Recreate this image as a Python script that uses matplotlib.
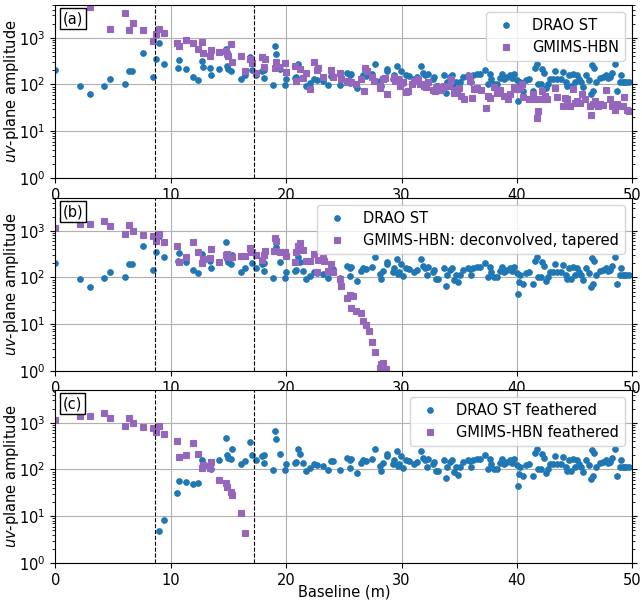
import numpy as np
import matplotlib.pyplot as plt

# DRAO single-dish (ST) amplitudes along baseline
drao_base = [
    0.0, 2.15, 3.0, 4.22, 4.73, 6.0, 6.37, 6.69, 7.63, 8.43, 8.72, 8.95, 9.44,
    10.59, 10.76, 11.36, 11.96, 12.34, 12.68, 12.83, 13.37, 13.51, 14.17, 14.75,
    14.89, 14.95, 15.2, 15.35, 16.07, 16.47, 16.87, 17.01, 17.42, 17.9, 18.05,
    18.1, 18.88, 19.0, 19.1, 19.45, 19.91, 20.03, 20.77, 20.89, 21.06, 21.17,
    21.46, 21.69, 22.03, 22.41, 22.7, 23.2, 23.6, 23.9, 24.1, 24.7,
    25.3, 25.5, 25.52, 25.65, 26.1, 26.45, 26.7, 26.94, 27.45, 27.74, 28.09,
    28.23, 28.37, 28.72, 28.75, 29.29, 29.38, 29.61, 29.66, 29.75, 29.95, 30.1,
    30.38, 30.67, 31.1, 31.33, 31.67, 31.82, 32.0, 32.19, 32.3, 32.68, 32.82,
    32.96, 33.19, 33.68, 33.82, 33.97, 34.17, 34.4, 34.54, 34.74, 34.91, 35.1,
    35.35, 35.77, 35.97, 36.03, 36.2, 36.5, 36.83, 37.27, 37.47, 37.64, 37.78,
    37.98, 38.27, 38.56, 38.7, 38.84, 39.13, 39.36, 39.56, 39.7, 39.99, 40.05,
    40.19, 40.28, 40.56, 40.77, 41.0, 41.42, 41.57, 41.71, 41.86, 42.06, 42.2,
    42.34, 42.49, 42.72, 42.86, 43.09, 43.29, 43.43, 43.78, 44.0, 44.24, 44.29,
    44.5, 44.72, 44.87, 45.04, 45.21, 45.38, 45.58, 45.73, 46.01, 46.22, 46.39,
    46.53, 46.59, 46.67, 46.82, 47.16, 47.45, 47.74, 47.88, 48.08, 48.25, 48.45,
    48.68, 48.88, 49.03, 49.17, 49.31, 49.46, 49.69,
]
drao_amp = [
    205, 93, 64, 95, 130, 103, 190, 190, 475, 145, 343, 765, 272,
    228, 336, 213, 141, 126, 325, 238, 223, 163, 216, 575,
    245, 209, 190, 300, 134, 156, 390, 199, 156, 190, 140,
    200, 97, 650, 450, 216, 98, 134, 136, 145, 277, 209,
    140, 92, 105, 128, 122, 120, 97, 155, 155, 97,
    174, 161, 107, 166, 84, 136, 162, 155, 166, 270, 121,
    91, 136, 214, 190, 129, 162, 246, 120, 132, 190, 108,
    162, 151, 132, 145, 246, 178, 162, 115, 170, 129, 145,
    91, 91, 162, 66, 112, 145, 162, 87, 112, 78, 115,
    145, 162, 151, 112, 162, 170, 170, 204, 102, 170, 129,
    102, 102, 136, 170, 129, 145, 162, 136, 170, 122, 44,
    81, 112, 71, 122, 132, 71, 224, 275, 100, 100, 214,
    178, 83, 100, 132, 129, 190, 132, 129, 182, 115, 91,
    162, 91, 170, 115, 162, 129, 112, 87, 162, 122, 63,
    263, 74, 224, 115, 136, 145, 162, 136, 145, 178, 275,
    74, 112, 162, 112, 112, 112, 112,
]

# feathered DRAO amplitudes below 17 m; beyond that they equal the ST values
feath_base_low = [8.95, 9.44, 10.56, 10.76, 11.36, 11.94, 12.34, 12.68, 12.83,
                  13.37, 13.51, 14.17, 14.75, 14.89, 14.95, 15.2, 15.35, 16.07,
                  16.47, 16.87]
feath_amp_low = [4.8, 8.2, 32, 56, 54, 49, 51, 156, 124,
                 134, 100, 158, 476, 203, 178, 164, 273, 130,
                 153, 392]

# GMIMS-HBN, raw
hbn_base = [
    3.0, 4.77, 6.0, 6.37, 6.72, 7.63, 8.44, 8.72, 8.95, 9.44, 10.56, 10.76,
    11.36, 11.94, 12.34, 12.68, 12.83, 13.37, 13.51, 14.17, 14.75, 14.89, 14.95,
    15.2, 15.35, 16.07, 16.47, 16.87, 17.01, 17.42, 17.9, 18.05, 18.2, 19.0,
    19.1, 19.4, 19.91, 20.03, 20.77, 20.89, 21.17, 21.46, 21.69, 22.03, 22.41,
    22.7, 22.8, 23.2, 23.85, 24.1, 24.7, 24.72, 25.3,
    25.36, 25.65, 26.08, 26.5, 26.74, 26.85, 27.02, 27.43, 27.6, 28.09, 28.17,
    28.37, 28.57, 28.75, 29.32, 29.43, 29.66, 29.89, 30.1, 30.38, 30.52, 30.87,
    31.1, 31.39, 31.61, 31.9, 32.1, 32.25, 32.76, 32.88, 33.1, 33.39, 33.68,
    34.11, 34.25, 34.54, 34.68, 34.97, 35.17, 35.4, 35.83, 35.97, 36.06, 36.26,
    36.55, 36.89, 37.35, 37.47, 37.7, 37.98, 38.27, 38.56, 38.84, 39.19, 39.42,
    39.7, 39.99, 40.22, 40.42, 40.56, 41.0, 41.42, 41.65, 41.77, 41.86, 42.14,
    42.23, 42.43, 42.63, 43.29, 43.43, 43.95, 44.15, 44.35, 44.58, 44.87, 45.01,
    45.21, 45.44, 45.67, 45.87, 46.3, 46.45, 46.59, 46.73, 47.02, 47.16, 47.45,
    47.74, 48.02, 48.25, 48.45, 48.65, 48.88, 49.17, 49.31, 49.51, 49.74,
]
hbn_amp = [
    4600, 1500, 3450, 1440, 2100, 1450, 870, 1220, 1500, 1280, 755, 650,
    890, 780, 560, 810, 460, 405, 535, 495, 520, 455, 405,
    720, 305, 405, 193, 345, 290, 178, 390, 235, 355, 228,
    305, 234, 290, 182, 245, 117, 219, 138, 174, 81, 302,
    204, 229, 145, 204, 145, 178, 129, 112,
    117, 112, 100, 132, 72, 229, 195, 145, 117, 95, 85,
    129, 138, 62, 145, 117, 129, 95, 112, 69, 72, 100,
    117, 129, 100, 95, 89, 112, 78, 72, 89, 78, 95,
    91, 129, 66, 76, 85, 56, 49, 151, 117, 51, 81,
    85, 76, 32, 58, 51, 89, 66, 76, 58, 48, 62,
    89, 81, 85, 100, 55, 49, 62, 49, 19.5, 27, 72,
    48, 56, 48, 85, 55, 35, 51, 49, 35, 81, 41,
    44, 41, 62, 49, 35, 22, 39, 44, 35, 39, 37,
    78, 48, 35, 28, 39, 35, 35, 55, 28, 27,
]

# GMIMS-HBN, deconvolved and tapered
dec_base = [
    0.0, 2.13, 3.04, 4.25, 4.77, 6.0, 6.37, 6.72, 7.63, 8.44, 8.72, 8.95, 9.44,
    10.56, 10.76, 11.36, 11.94, 12.34, 12.68, 12.83, 13.37, 13.51, 14.17, 14.75,
    14.89, 14.95, 15.2, 15.35, 16.07, 16.47, 16.87, 17.01, 17.42, 17.9, 18.05,
    18.2, 18.93, 19.0, 19.1, 19.45, 19.91, 20.03, 20.77, 20.89, 21.06, 21.17,
    21.46, 21.69, 22.03, 22.41, 22.7, 22.8, 23.2, 23.3, 23.6, 23.85, 24.1,
    24.7, 24.72, 25.3, 25.5, 25.65, 25.8, 26.08, 26.45, 26.7, 26.94, 27.14,
    27.45, 27.74, 28.09, 28.23, 28.37, 28.66,
]
dec_amp = [
    1150, 1370, 1370, 1590, 1260, 850, 1300, 1000, 810, 770, 610, 850, 580,
    475, 217, 270, 580, 355, 200, 247, 265, 400, 219, 300,
    324, 270, 275, 275, 288, 288, 430, 355, 300, 234, 300,
    363, 363, 710, 610, 347, 355, 288, 219, 355, 475, 555,
    389, 224, 224, 324, 132, 234, 263, 224, 138, 191, 129,
    91, 65, 36, 43, 22, 41, 19, 17, 12, 9.5, 7.1,
    4.2, 2.5, 1.15, 1.44, 1.48, 1.12,
]

# GMIMS-HBN, feathered
hbn_feath_base = [
    0.0, 2.13, 3.04, 4.25, 4.77, 6.0, 6.37, 6.72, 7.63, 8.44, 8.72, 8.95, 9.44,
    10.56, 10.76, 11.36, 11.94, 12.34, 12.68, 12.83, 13.37, 13.51, 14.17, 14.75,
    14.89, 15.2, 15.35, 16.07, 16.47,
]
hbn_feath_amp = [
    1140, 1380, 1380, 1580, 1230, 850, 1290, 980, 790, 760, 620, 850, 575,
    410, 182, 200, 370, 209, 105, 123, 110, 145, 59, 51,
    43, 33, 28, 11.5, 4.4,
]

dish_lines = [8.6, 17.2]

drao_base = np.array(drao_base)
drao_amp = np.array(drao_amp)
tail = drao_base >= 17
feath_base = np.concatenate([feath_base_low, drao_base[tail]])
feath_amp = np.concatenate([feath_amp_low, drao_amp[tail]])

plt.rcParams['font.size'] = 10.5

panels = [
    ("(a)", (drao_base, drao_amp, "DRAO ST"),
     (hbn_base, hbn_amp, "GMIMS-HBN")),
    ("(b)", (drao_base, drao_amp, "DRAO ST"),
     (dec_base, dec_amp, "GMIMS-HBN: deconvolved, tapered")),
    ("(c)", (feath_base, feath_amp, "DRAO ST feathered"),
     (hbn_feath_base, hbn_feath_amp, "GMIMS-HBN feathered")),
]

fig = plt.figure(figsize=(6.42, 6.04), dpi=100)
bottoms = [0.7053, 0.3858, 0.0679]
for (tag, st, hbn), b in zip(panels, bottoms):
    ax = fig.add_axes([0.0861, b, 0.8990, 0.2864])
    ax.plot(st[0], st[1], 'o', ms=4.0, mew=0.8, color="#1f77b4", label=st[2])
    ax.plot(hbn[0], hbn[1], 's', ms=3.7, mew=0.8, color="#9467bd", label=hbn[2])
    for xv in dish_lines:
        ax.axvline(xv, color="black", linestyle="--", linewidth=0.8)
    ax.set_yscale("log")
    ax.set_xlim(0, 50)
    ax.set_ylim(1, 5e3)
    ax.grid(True, which="major")
    ax.tick_params(which="both", right=True)
    ax.set_ylabel(r"$uv$-plane amplitude")
    ax.yaxis.set_label_coords(-0.059, 0.5)
    ax.text(0.013, 0.965, tag, transform=ax.transAxes, ha="left", va="top",
            bbox=dict(boxstyle="square,pad=0.2", fc="white", ec="black"))
    ax.legend(loc="upper right")

ax.set_xlabel("Baseline (m)", labelpad=-2)
fig.savefig("out.png", dpi=100)
